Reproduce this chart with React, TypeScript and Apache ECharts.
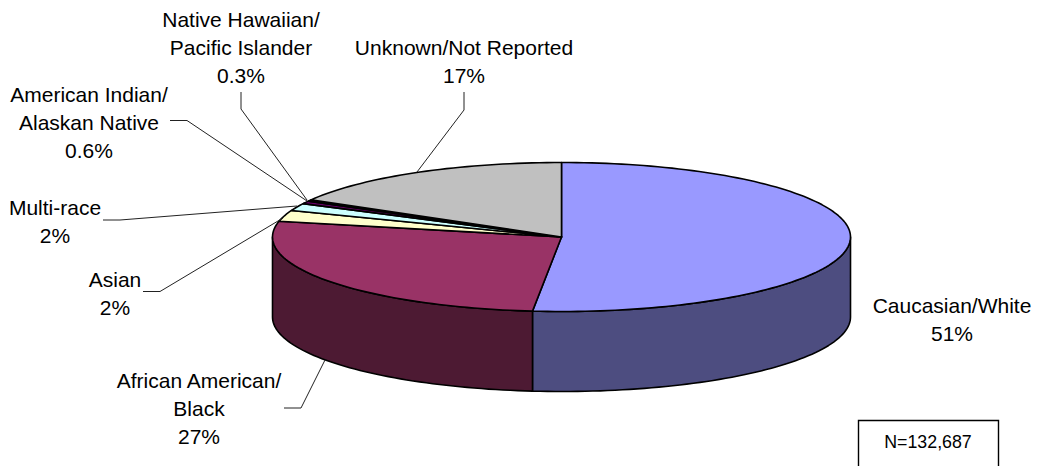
import React, { useEffect, useRef } from "react";
import * as echarts from "echarts";

const categories = [
  "Caucasian/White",
  "African American/Black",
  "Asian",
  "Multi-race",
  "American Indian/Alaskan Native",
  "Native Hawaiian/Pacific Islander",
  "Unknown/Not Reported",
];
const values = [51.6, 26.8, 2.4, 1.6, 0.6, 0.3, 16.7];
const topColors = ["#9999FF", "#993366", "#FFFFCC", "#CCFFFF", "#660066", "#FF8080", "#C0C0C0"];
const sideColors = ["#4D4D80", "#4D1A33", "#80806A", "#6A8080", "#330033", "#804040", "#606060"];

const labelLines: string[][] = [
  ["Caucasian/White", "51%"],
  ["African American/", "Black", "27%"],
  ["Asian", "2%"],
  ["Multi-race", "2%"],
  ["American Indian/", "Alaskan Native", "0.6%"],
  ["Native Hawaiian/", "Pacific Islander", "0.3%"],
  ["Unknown/Not Reported", "17%"],
];
const labelCenters = [952, 199, 115, 55, 89, 241, 464];
const labelFirstY = [305, 380, 279, 207, 94, 19, 47];
const leaders: number[][][] = [
  [],
  [[284, 408], [301, 408], [325, 360]],
  [[143, 291.5], [160, 291.5], [283, 218]],
  [[103, 220], [120, 220], [297, 206]],
  [[170, 120.5], [187, 120.5], [307, 201]],
  [[241, 92], [241, 109], [307, 200]],
  [[464, 92], [464, 110], [417, 172]],
];
const noteText = "N=132,687";

const CX = 561.5;
const CY = 237;
const RX = 289;
const RY = 74.5;
const DEPTH = 80;
const TOTAL = values.reduce((a, b) => a + b, 0);

function pt(deg: number, dy = 0): number[] {
  const r = (deg * Math.PI) / 180;
  return [CX + RX * Math.sin(r), CY - RY * Math.cos(r) + dy];
}
function arc(a: number, b: number, dy = 0): number[][] {
  const n = Math.max(2, Math.ceil(Math.abs(b - a) / 1.5));
  const out: number[][] = [];
  for (let i = 0; i <= n; i++) out.push(pt(a + ((b - a) * i) / n, dy));
  return out;
}
function angles(i: number): [number, number] {
  let s = 0;
  for (let k = 0; k < i; k++) s += values[k];
  return [(s / TOTAL) * 360, ((s + values[i]) / TOTAL) * 360];
}
const lineStyle = { stroke: "#000", lineWidth: 1.6, lineJoin: "round" as const };

export default function App() {
  const ref = useRef<HTMLDivElement>(null);
  useEffect(() => {
    if (!ref.current) return;
    const chart = echarts.init(ref.current, undefined, { renderer: "svg" });
    const textEls: any[] = [];
    labelLines.forEach((lines, i) => {
      lines.forEach((t, j) => {
        textEls.push({
          type: "text",
          x: labelCenters[i],
          y: labelFirstY[i] + j * 28.3,
          style: {
            text: t,
            fill: "#000",
            font: "21px 'Liberation Sans', Arial, sans-serif",
            textAlign: "center",
            textVerticalAlign: "middle",
          },
        });
      });
    });
    const leaderEls = leaders
      .filter((l) => l.length)
      .map((l) => ({
        type: "polyline",
        shape: { points: l },
        style: { stroke: "#222", lineWidth: 1, fill: "none" },
        z: 5,
      }));
    chart.setOption({
      animation: false,
      backgroundColor: "#fff",
      xAxis: { show: false },
      yAxis: { show: false },
      series: [
        {
          type: "custom",
          coordinateSystem: "none",
          silent: true,
          clip: false,
          data: categories.map((name, i) => ({ name, value: values[i] })),
          renderItem: (params: any) => {
            const i = params.dataIndex;
            const [a, b] = angles(i);
            const children: any[] = [];
            const sa = Math.max(a, 90);
            const sb = Math.min(b, 270);
            if (sb > sa) {
              children.push({
                type: "polygon",
                shape: { points: [...arc(sa, sb), ...arc(sb, sa, DEPTH)] },
                style: { fill: sideColors[i], ...lineStyle },
              });
            }
            return { type: "group", children };
          },
          z: 2,
        },
        {
          type: "custom",
          coordinateSystem: "none",
          silent: true,
          clip: false,
          data: categories.map((name, i) => ({ name, value: values[i] })),
          renderItem: (params: any) => {
            const i = params.dataIndex;
            const [a, b] = angles(i);
            return {
              type: "polygon",
              shape: { points: [[CX, CY], ...arc(a, b)] },
              style: { fill: topColors[i], ...lineStyle },
            };
          },
          z: 3,
        },
      ],
      graphic: {
        elements: [
          ...leaderEls,
          ...textEls,
          {
            type: "rect",
            shape: { x: 858.5, y: 420.5, width: 140, height: 60 },
            style: { fill: "#fff", stroke: "#000", lineWidth: 1.4 },
            z: 5,
          },
          {
            type: "text",
            x: 928,
            y: 442,
            z: 6,
            style: {
              text: noteText,
              fill: "#000",
              font: "17.8px 'Liberation Sans', Arial, sans-serif",
              textAlign: "center",
              textVerticalAlign: "middle",
            },
          },
        ],
      },
    });
    return () => chart.dispose();
  }, []);
  return (
    <div
      ref={ref}
      style={{ position: "absolute", left: 0, top: 0, width: 1039, height: 466 }}
    />
  );
}
